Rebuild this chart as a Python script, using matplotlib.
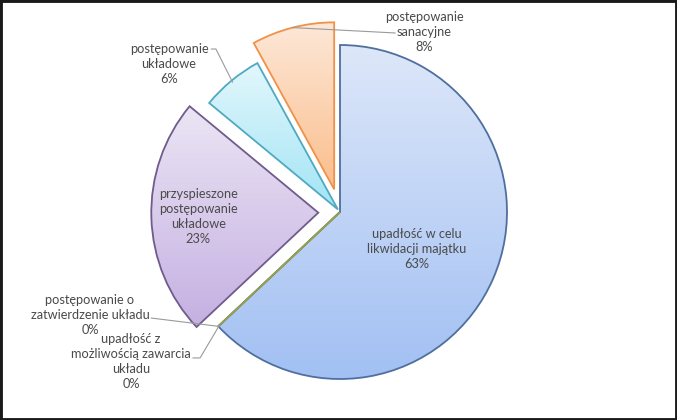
import numpy as np
import matplotlib
matplotlib.use("Agg")
import matplotlib.pyplot as plt
from matplotlib.colors import LinearSegmentedColormap
from matplotlib.patches import Rectangle

labels = ["upadłość w celu\nlikwidacji majątku",
          "upadłość z\nmożliwością zawarcia\nukładu",
          "postępowanie o\nzatwierdzenie układu",
          "przyspieszone\npostępowanie\nukładowe",
          "postępowanie\nukładowe",
          "postępowanie\nsanacyjne"]
values = [63, 0, 0, 23, 6, 8]
explode = [0, 0, 0, 0.13, 0.02, 0.14]
top_colors = ["#dde7f9", "#f2c9c8", "#e3eed2", "#ebe5f4", "#e3f7fc", "#fde8d8"]
bottom_colors = ["#a2c0f3", "#d99694", "#b7d48c", "#c5b0e2", "#a2e4f5", "#fbbe8c"]
edge_colors = ["#4f6f9e", "#b04a47", "#8aaa4e", "#6f5b8c", "#4fa9c0", "#f0914a"]

plt.rcParams['font.family'] = ['Lato', 'DejaVu Sans']
W, H, DPI = 677, 420, 100
fig = plt.figure(figsize=(W / DPI, H / DPI), dpi=DPI)
ax = fig.add_axes([0, 0, 1, 1])
ax.axis('off')

R = 1.0
scale = 167.0
cx, cy = 340.0, 212.0
ax.set_xlim(-cx / scale, (W - cx) / scale)
ax.set_ylim(-(H - cy) / scale, cy / scale)

wedges, _ = ax.pie(values, explode=explode, radius=R, startangle=90,
                   counterclock=False,
                   wedgeprops=dict(linewidth=1.3, facecolor='none'))

total = float(sum(values))
angles = []
acc = 0.0
for v in values:
    mid = (acc + v / 2.0) / total * 2 * np.pi  # clockwise from top
    angles.append(mid)
    acc += v

for w, tc, bc, ec, v in zip(wedges, top_colors, bottom_colors, edge_colors, values):
    w.set_edgecolor(ec)
    w.set_zorder(3)
    if v == 0:
        continue
    ext = w.get_path().get_extents()
    cmap = LinearSegmentedColormap.from_list("g", [bc, tc])
    grad = np.linspace(0, 1, 256).reshape(-1, 1)
    im = ax.imshow(grad, cmap=cmap, origin='lower', aspect='auto',
                   extent=[ext.x0, ext.x1, ext.y0, ext.y1], zorder=2,
                   interpolation='bilinear')
    im.set_clip_path(w)

ax.set_xlim(-cx / scale, (W - cx) / scale)
ax.set_ylim(-(H - cy) / scale, cy / scale)

tcol = "#4a4a4a"
fs = 9.2
ls = 1.3

def direction(i):
    a = angles[i]
    return np.array([np.sin(a), np.cos(a)])

def offset(i):
    return direction(i) * explode[i] * R

def pct(i):
    return f"{values[i]:.0f}%"

# inside labels
for i, dist, dy in [(0, 0.5, -0.02), (3, 0.72, 0.0)]:
    p = offset(i) + direction(i) * dist
    ax.text(p[0], p[1] + dy, labels[i] + "\n" + pct(i), ha='center', va='center',
            color=tcol, fontsize=fs, zorder=5, linespacing=ls)

# outside labels with leader lines
outside = [
    (4, (-1.024, 0.886), [(-0.77, 0.976), (-0.743, 0.976)], 0.99),
    (5, (0.503, 1.078), [(0.33, 1.072)], 1.0),
    (2, (-1.497, -0.617), [(-1.13, -0.635)], 1.0),
    (1, (-1.251, -0.898), [(-0.88, -0.874), (-0.838, -0.874)], 0.99),
]
for i, tpos, pts, rr in outside:
    ax.text(tpos[0], tpos[1], labels[i] + "\n" + pct(i), ha='center', va='center',
            color=tcol, fontsize=fs, zorder=5, linespacing=ls)
    end = offset(i) + direction(i) * rr * R
    xs = [p[0] for p in pts] + [end[0]]
    ys = [p[1] for p in pts] + [end[1]]
    ax.plot(xs, ys, color="#9a9a9a", lw=0.8, zorder=6)

fig.patches.append(Rectangle((0, 0), 1, 1, transform=fig.transFigure,
                             fill=False, edgecolor="#1a1a1a", linewidth=3.5))

fig.savefig("out.png", dpi=DPI)
